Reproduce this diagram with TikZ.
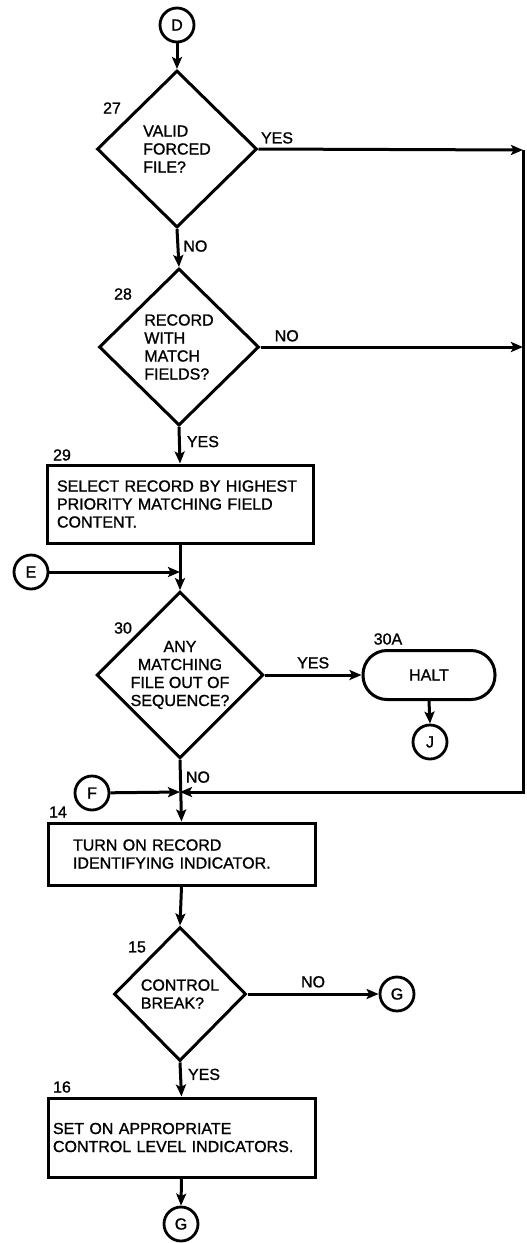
\documentclass[tikz,border=0pt]{standalone}
\usepackage{fontspec}
\setmainfont{Liberation Sans}
\newfontfamily\fcfont{Liberation Sans}[FakeBold=1.2]
\usetikzlibrary{arrows.meta,shapes.geometric}
\newcommand\fcsize{\fcfont\fontsize{16}{18}\selectfont}
\tikzset{
  decis/.style={draw,diamond,aspect=1,line width=3pt,inner sep=0pt,align=left,font=\fcsize,minimum width=160pt,minimum height=157pt},
  procbox/.style={draw,rectangle,line width=3pt,align=left,font=\fcsize,inner ysep=0pt},
  term/.style={draw,rectangle,rounded corners=24pt,line width=3pt,font=\fcsize,minimum width=132pt,minimum height=49pt},
  conn/.style={draw,circle,line width=2.8pt,font=\fcsize,minimum size=34pt,inner sep=0pt},
  arr/.style={-{Stealth[length=12pt,width=10pt,inset=2.5pt]},line width=3pt},
  lbl/.style={font=\fcsize,inner sep=0pt},
}

\begin{document}
\begin{tikzpicture}[x=1pt,y=-1pt]
  \useasboundingbox (0,0) rectangle (527,1243);

  % connectors in / out
  \node[conn] (D) at (177,25) {D};
  \node[conn] (E) at (31,572) {E};
  \node[conn] (J) at (430,742) {J};
  \node[conn] (F) at (92,793) {F};
  \node[conn] (G1) at (397,994) {G};
  \node[conn] (G2) at (181,1224) {G};

  % decisions
  \node[decis] (d27) at (177,149) {VALID\\FORCED\\FILE?};
  \node[decis] (d28) at (179,347) {RECORD\\WITH\\MATCH\\FIELDS?};
  \node[decis,align=center] (d30) at (180,675) {ANY\\MATCHING\\FILE OUT OF\\SEQUENCE?};
  \node[decis,minimum width=132pt,minimum height=134pt] (d15) at (180,994) {CONTROL\\BREAK?};

  % process boxes
  \node[procbox,text width=246pt,inner xsep=10pt,minimum height=78pt] (b29) at (180,504)
    {SELECT RECORD BY HIGHEST\\PRIORITY MATCHING FIELD\\CONTENT.};
  \node[procbox,text width=217pt,inner xsep=25pt,minimum height=62pt] (b14) at (181.5,854)
    {TURN ON RECORD\\IDENTIFYING INDICATOR.};
  \node[procbox,text width=257pt,inner xsep=5pt,minimum height=79pt] (b16) at (181.5,1137.5)
    {SET ON APPROPRIATE\\CONTROL LEVEL INDICATORS.};
  \node[term] (halt) at (429,675) {HALT};

  % block numbers
  \node[lbl] (n27) at (112,108) {27};
  \node[lbl] (n28) at (123,294) {28};
  \node[lbl] (n29) at (62,455) {29};
  \node[lbl] (n30) at (123,628) {30};
  \node[lbl] (n30a) at (388,639) {30A};
  \node[lbl] (n14) at (58,812) {14};
  \node[lbl] (n15) at (137,947) {15};
  \node[lbl] (n16) at (62,1087) {16};

  % right-hand return line
  \coordinate (rtop) at (523,150);
  \coordinate (rmid) at (523,347);
  \coordinate (rbot) at (523,792);
  \coordinate (jn) at (180,792);
  \coordinate (ein) at (180,572);

  \draw[arr] (D) -- (d27.north);
  \draw[arr] (d27.south) -- (d28.north) node[lbl,pos=0.45,right=4pt] (no27) {NO};
  \draw[arr] (d27.east) -- (rtop) node[lbl,pos=0.07,above=4pt] (yes27) {YES};
  \draw[arr] (d28.east) -- (rmid) node[lbl,pos=0.1,above=4pt] (no28) {NO};
  \draw[arr] (d28.south) -- (b29.north) node[lbl,pos=0.4,right=6pt] (yes28) {YES};
  \draw[arr] (b29.south) -- (d30.north);
  \draw[arr] (E) -- (ein);
  \draw[arr] (d30.east) -- (halt.west) node[lbl,midway,above=5pt] (yes30) {YES};
  \draw[arr] (halt.south) -- (J.north);
  \draw[arr] (d30.south) -- (b14.north) node[lbl,pos=0.28,right=4pt] (no30) {NO};
  \draw[arr] (rtop) -- (rbot) -- (jn);
  \draw[arr] (F) -- (jn);
  \draw[arr] (b14.south) -- (d15.north);
  \draw[arr] (d15.east) -- (G1.west) node[lbl,midway,above=5pt] (no15) {NO};
  \draw[arr] (d15.south) -- (b16.north) node[lbl,pos=0.35,right=6pt] (yes15) {YES};
  \draw[arr] (b16.south) -- (G2.north);
\end{tikzpicture}
\end{document}
